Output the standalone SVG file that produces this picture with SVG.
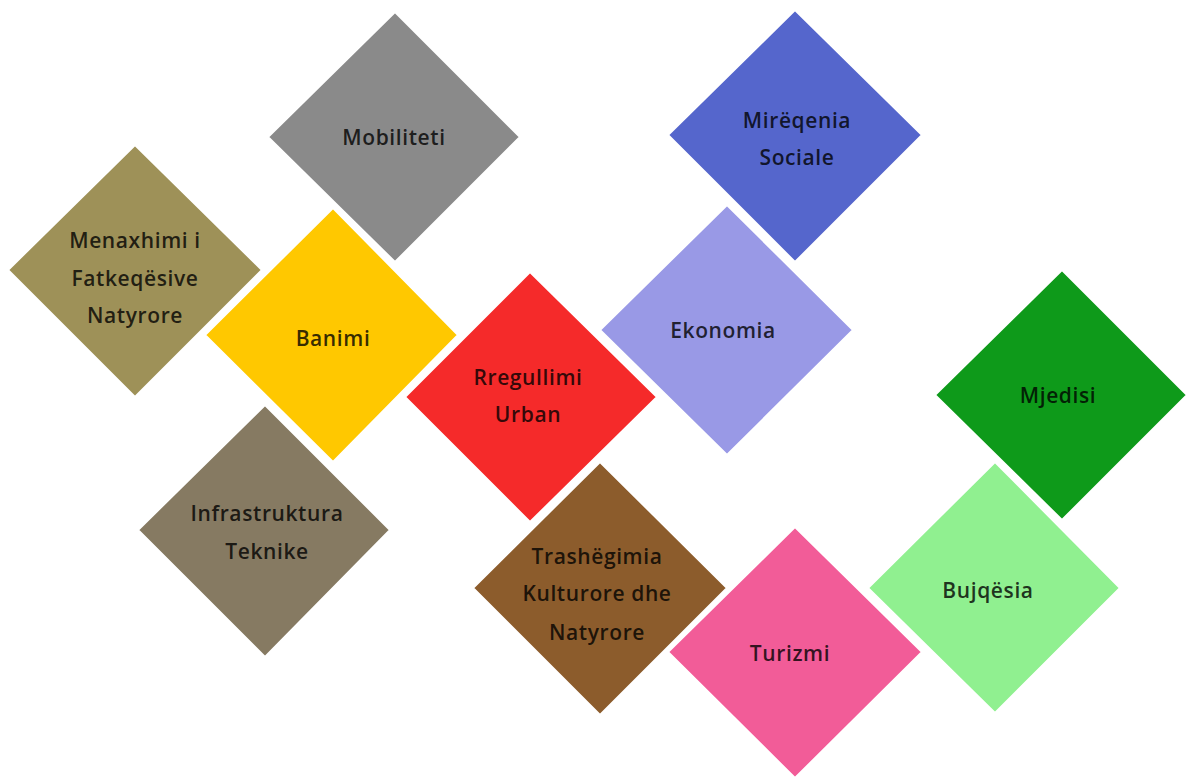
<svg xmlns="http://www.w3.org/2000/svg" width="1187" height="780" viewBox="0 0 1187 780">
<style>
.d{stroke:#ffffff;stroke-width:2;stroke-linejoin:miter}
.t{font-family:"Open Sans","DejaVu Sans",sans-serif;font-size:21px;font-weight:600;letter-spacing:0.6px;text-anchor:middle;dominant-baseline:central;fill:#000;fill-opacity:0.8}
</style>
<rect width="1187" height="780" fill="#ffffff"/>
<g id="connectors"></g>
<g id="mobiliteti">
<polygon class="d" fill="#8A8A8A" points="395,12 520,137 395,262 268,137"/>
<text class="t" x="394" y="137">Mobiliteti</text>
</g>
<g id="menaxhimi">
<polygon class="d" fill="#9E9158" points="135,145 262,270 135,397 8,270"/>
<text class="t" x="135" y="240">Menaxhimi i</text>
<text class="t" x="135" y="278">Fatkeqësive</text>
<text class="t" x="135" y="315">Natyrore</text>
</g>
<g id="banimi">
<polygon class="d" fill="#FFC800" points="333,208 458,335 333,462 205,335"/>
<text class="t" x="333" y="338">Banimi</text>
</g>
<g id="infrastruktura">
<polygon class="d" fill="#867A62" points="265,405 390,530 265,657 138,530"/>
<text class="t" x="267" y="513">Infrastruktura</text>
<text class="t" x="267" y="551">Teknike</text>
</g>
<g id="rregullimi">
<polygon class="d" fill="#F52A2A" points="530,272 657,397 530,522 405,397"/>
<text class="t" x="528" y="377">Rregullimi</text>
<text class="t" x="528" y="414">Urban</text>
</g>
<g id="mireqenia">
<polygon class="d" fill="#5566CC" points="795,10 922,135 795,262 668,135"/>
<text class="t" x="797" y="120">Mirëqenia</text>
<text class="t" x="797" y="157">Sociale</text>
</g>
<g id="ekonomia">
<polygon class="d" fill="#9999E6" points="727,205 853,330 727,455 600,330"/>
<text class="t" x="723" y="330">Ekonomia</text>
</g>
<g id="mjedisi">
<polygon class="d" fill="#0E9A1A" points="1062,270 1187,395 1062,520 935,395"/>
<text class="t" x="1058" y="395">Mjedisi</text>
</g>
<g id="trashegimia">
<polygon class="d" fill="#8C5C2C" points="600,462 727,588 600,715 473,588"/>
<text class="t" x="597" y="556">Trashëgimia</text>
<text class="t" x="597" y="593">Kulturore dhe</text>
<text class="t" x="597" y="632">Natyrore</text>
</g>
<g id="turizmi">
<polygon class="d" fill="#F25C98" points="795,527 922,652 795,778 668,652"/>
<text class="t" x="790" y="653">Turizmi</text>
</g>
<g id="bujqesia">
<polygon class="d" fill="#90F090" points="995,462 1120,588 995,713 868,588"/>
<text class="t" x="988" y="590">Bujqësia</text>
</g>
</svg>
